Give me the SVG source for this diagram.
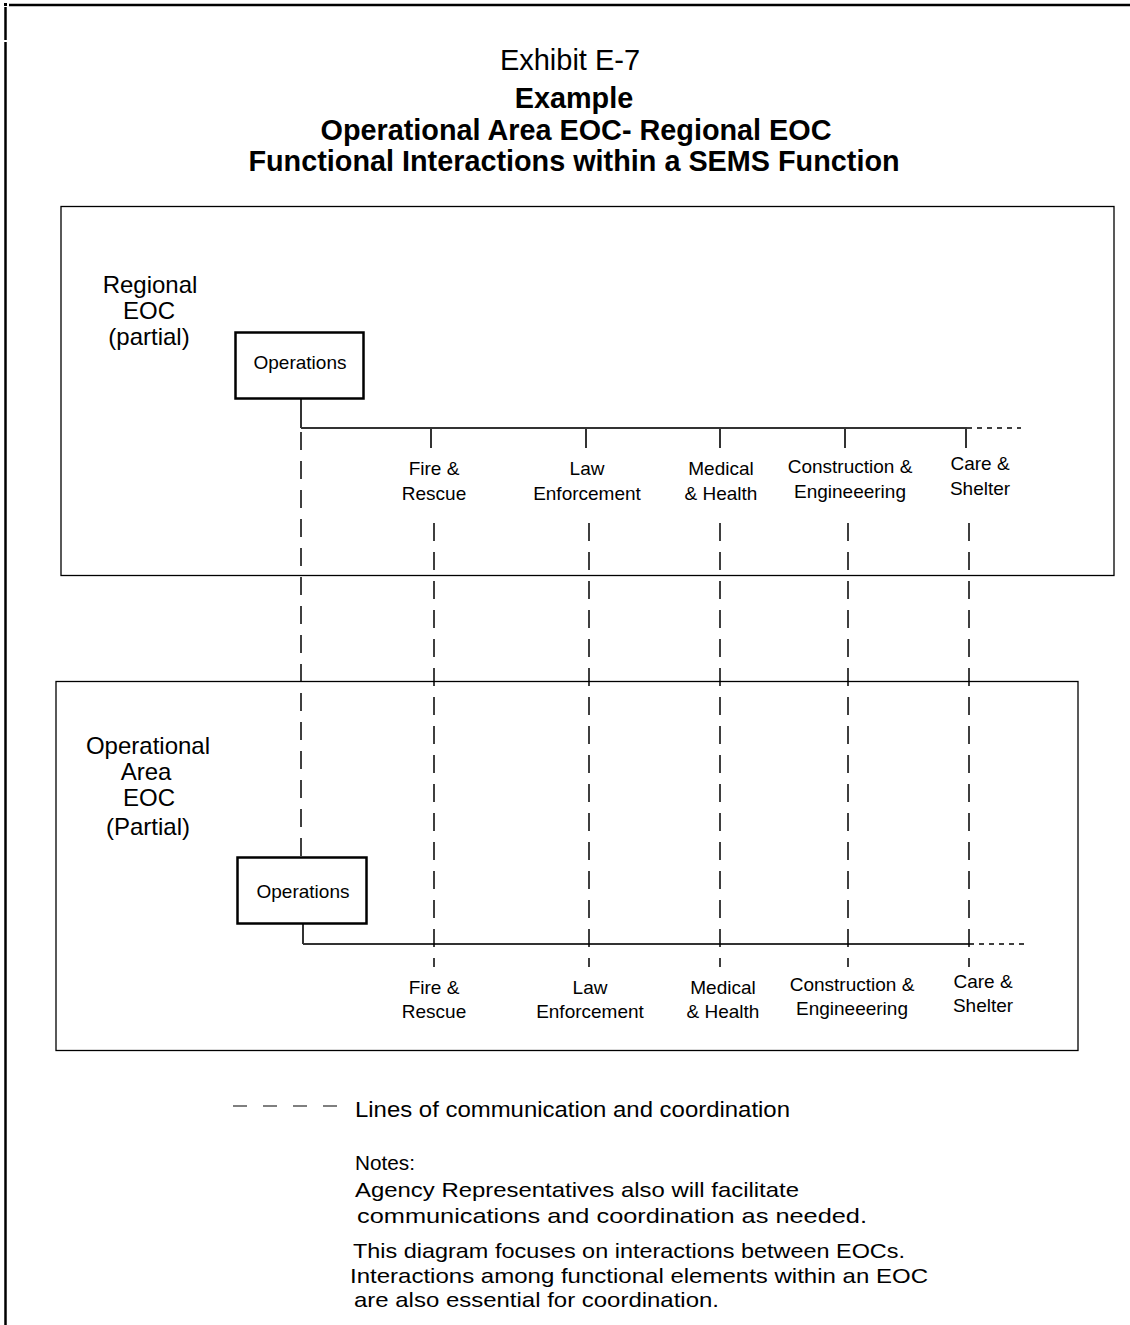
<svg xmlns="http://www.w3.org/2000/svg" width="1130" height="1325" viewBox="0 0 1130 1325">
<style>
text{font-family:"Liberation Sans",Arial,sans-serif;fill:#000}
.t{font-size:29px}
.b{font-size:28.8px;font-weight:bold}
.lbl{font-size:19px;text-anchor:middle}
.big{font-size:24px;text-anchor:middle}
.note{font-size:21px}
.frame{fill:none;stroke:#000;stroke-width:1.3}
.ops{fill:#fff;stroke:#000;stroke-width:2.5}
.solid{stroke:#333;stroke-width:2;fill:none}
.dash{stroke:#000;stroke-width:1.5;stroke-dasharray:18 11;fill:none}
.dot{stroke:#000;stroke-width:1.5;stroke-dasharray:5 5;fill:none}
</style>
<g id="page-border">
<rect x="4" y="3" width="3" height="3" fill="#000"/>
<line x1="9" y1="5" x2="1130" y2="5" stroke="#000" stroke-width="2.5"/>
<line x1="5.5" y1="7" x2="5.5" y2="40" stroke="#000" stroke-width="2.5"/>
<line x1="5.5" y1="42" x2="5.5" y2="1325" stroke="#000" stroke-width="2.5"/>
</g>
<g id="title">
<text class="t" x="570" y="70" text-anchor="middle">Exhibit E-7</text>
<text class="b" x="574" y="108" text-anchor="middle">Example</text>
<text class="b" x="576" y="140" text-anchor="middle">Operational Area EOC- Regional EOC</text>
<text class="b" x="574" y="171" text-anchor="middle">Functional Interactions within a SEMS Function</text>
</g>
<g id="regional-eoc">
<rect class="frame" x="61" y="206.5" width="1053" height="369"/>
<text class="big" x="150" y="293">Regional</text>
<text class="big" x="149" y="319">EOC</text>
<text class="big" x="149" y="345">(partial)</text>
</g>
<g id="oparea-eoc">
<rect class="frame" x="56" y="681.5" width="1022" height="369"/>
<text class="big" x="148" y="754">Operational</text>
<text class="big" x="146" y="780">Area</text>
<text class="big" x="149" y="806">EOC</text>
<text class="big" x="148" y="835">(Partial)</text>
</g>
<g id="connectors">
<line class="solid" x1="301" y1="399" x2="301" y2="428"/>
<line class="solid" x1="301" y1="428" x2="967" y2="428"/>
<line class="dot" x1="967" y1="428" x2="1021" y2="428"/>
<line class="solid" x1="431" y1="428" x2="431" y2="448"/>
<line class="solid" x1="586" y1="428" x2="586" y2="448"/>
<line class="solid" x1="720" y1="428" x2="720" y2="448"/>
<line class="solid" x1="845" y1="428" x2="845" y2="448"/>
<line class="solid" x1="966" y1="428" x2="966" y2="448"/>
<line class="solid" x1="303" y1="924" x2="303" y2="944"/>
<line class="solid" x1="303" y1="944" x2="969" y2="944"/>
<line class="dot" x1="969" y1="944" x2="1024" y2="944"/>
<line class="dash" x1="301" y1="432" x2="301" y2="856"/>
<line class="dash" x1="434" y1="523" x2="434" y2="967"/>
<line class="dash" x1="589" y1="523" x2="589" y2="967"/>
<line class="dash" x1="720" y1="523" x2="720" y2="967"/>
<line class="dash" x1="848" y1="523" x2="848" y2="967"/>
<line class="dash" x1="969" y1="523" x2="969" y2="967"/>
</g>
<g id="reg-ops"><rect class="ops" x="235.5" y="332.5" width="128" height="66"/><text x="300" y="369" style="font-size:19px;text-anchor:middle">Operations</text></g>
<g id="oa-ops"><rect class="ops" x="237.5" y="857.5" width="129" height="66"/><text x="303" y="898" style="font-size:19px;text-anchor:middle">Operations</text></g>
<g id="reg-fire"><text class="lbl" x="434" y="475">Fire &amp;</text><text class="lbl" x="434" y="500">Rescue</text></g>
<g id="reg-law"><text class="lbl" x="587" y="475">Law</text><text class="lbl" x="587" y="500">Enforcement</text></g>
<g id="reg-med"><text class="lbl" x="721" y="475">Medical</text><text class="lbl" x="721" y="500">&amp; Health</text></g>
<g id="reg-con"><text class="lbl" x="850" y="473">Construction &amp;</text><text class="lbl" x="850" y="498">Engineeering</text></g>
<g id="reg-care"><text class="lbl" x="980" y="470">Care &amp;</text><text class="lbl" x="980" y="495">Shelter</text></g>
<g id="oa-fire"><text class="lbl" x="434" y="994">Fire &amp;</text><text class="lbl" x="434" y="1018">Rescue</text></g>
<g id="oa-law"><text class="lbl" x="590" y="994">Law</text><text class="lbl" x="590" y="1018">Enforcement</text></g>
<g id="oa-med"><text class="lbl" x="723" y="994">Medical</text><text class="lbl" x="723" y="1018">&amp; Health</text></g>
<g id="oa-con"><text class="lbl" x="852" y="991">Construction &amp;</text><text class="lbl" x="852" y="1015">Engineeering</text></g>
<g id="oa-care"><text class="lbl" x="983" y="988">Care &amp;</text><text class="lbl" x="983" y="1012">Shelter</text></g>
<g id="legend">
<line x1="233" y1="1106" x2="339" y2="1106" stroke="#000" stroke-width="1.2" stroke-dasharray="14 16"/>
<text class="note" style="font-size:22px" x="355" y="1117" textLength="435" lengthAdjust="spacingAndGlyphs">Lines of communication and coordination</text>
<text class="note" x="355" y="1170" textLength="60" lengthAdjust="spacingAndGlyphs">Notes:</text>
<text class="note" x="355" y="1197" textLength="444" lengthAdjust="spacingAndGlyphs">Agency Representatives also will facilitate</text>
<text class="note" x="357" y="1223" textLength="510" lengthAdjust="spacingAndGlyphs">communications and coordination as needed.</text>
<text class="note" x="353" y="1258" textLength="552" lengthAdjust="spacingAndGlyphs">This diagram focuses on interactions between EOCs.</text>
<text class="note" x="350" y="1283" textLength="578" lengthAdjust="spacingAndGlyphs">Interactions among functional elements within an EOC</text>
<text class="note" x="354" y="1307" textLength="365" lengthAdjust="spacingAndGlyphs">are also essential for coordination.</text>
</g>
</svg>
